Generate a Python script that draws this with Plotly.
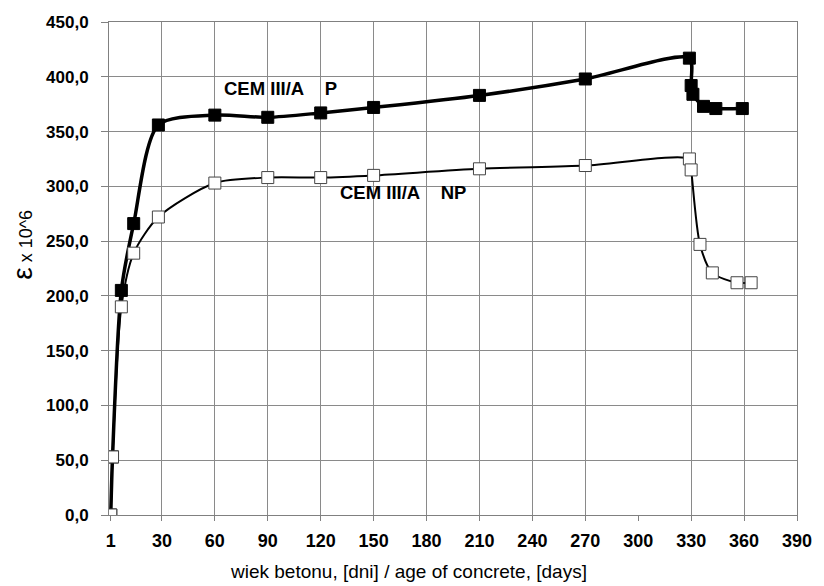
import plotly.graph_objects as go

# ---- data ----
days_p = [1, 2, 7, 14, 28, 60, 90, 120, 150, 210, 270, 329, 330, 331, 337, 344, 359]
eps_p = [0, 53, 205, 266, 356, 365, 363, 367, 372, 383, 398, 417, 392, 384, 373, 371, 371]

days_np = [1, 2, 7, 14, 28, 60, 90, 120, 150, 210, 270, 329, 330, 335, 342, 356, 364]
eps_np = [0, 53, 190, 239, 272, 303, 308, 308, 310, 316, 319, 325, 315, 247, 221, 212, 212]

x_tickvals = [1, 30, 60, 90, 120, 150, 180, 210, 240, 270, 300, 330, 360, 390]
x_ticktext = ["1", "30", "60", "90", "120", "150", "180", "210", "240", "270",
              "300", "330", "360", "390"]
x_gridvals = [30, 60, 90, 120, 150, 180, 210, 240, 270, 330, 360, 390]

label_p = "CEM III/A\u00a0\u00a0\u00a0\u00a0P"
label_np = "CEM III/A\u00a0\u00a0\u00a0\u00a0NP"
x_title = "wiek betonu, [dni] / age of concrete, [days]"
y_title = "<span style=\"font-size:28px\">ε</span> x 10^6"

FONT = "Liberation Sans, Arial, sans-serif"
GRID = "#8a8a8a"
LINE = "#808080"

fig = go.Figure()

# grid-only overlay axis (the 300-day grid line is absent in the reference)
fig.add_trace(go.Scatter(x=[None], y=[None], xaxis="x2", showlegend=False,
                         hoverinfo="skip", mode="markers"))

fig.add_trace(go.Scatter(
    x=days_p, y=eps_p, mode="lines+markers", name="CEM III/A P",
    line=dict(color="black", width=3.5, shape="spline", smoothing=0.75),
    marker=dict(symbol="square", size=12, color="black",
                line=dict(color="black", width=1)),
    showlegend=False))

fig.add_trace(go.Scatter(
    x=days_np, y=eps_np, mode="lines+markers", name="CEM III/A NP",
    line=dict(color="black", width=2, shape="spline", smoothing=0.75),
    marker=dict(symbol="square", size=12, color="white",
                line=dict(color="#444444", width=1)),
    showlegend=False))

fig.update_layout(
    width=824, height=586,
    margin=dict(l=109, r=16, t=22, b=71),
    paper_bgcolor="white", plot_bgcolor="white",
    separators=", ",
    font=dict(family=FONT, color="black"),
    xaxis=dict(range=[0, 390], tickvals=x_tickvals, ticktext=x_ticktext,
               showgrid=False, zeroline=False,
               showline=True, linecolor=LINE, linewidth=1, mirror=True,
               ticks="outside", ticklen=5, tickcolor=LINE, tickwidth=1,
               ticklabelstandoff=4,
               tickfont=dict(family=FONT, size=18, color="black", weight="bold")),
    xaxis2=dict(range=[0, 390], overlaying="x", tickvals=x_gridvals,
                showgrid=True, gridcolor=GRID, gridwidth=1,
                showticklabels=False, ticks="", zeroline=False, showline=False),
    yaxis=dict(range=[0, 450], dtick=50, tick0=0, tickformat=".1f",
               showgrid=True, gridcolor=GRID, gridwidth=1, zeroline=False,
               showline=True, linecolor=LINE, linewidth=1, mirror=True,
               ticks="outside", ticklen=7, tickcolor=LINE, tickwidth=1,
               ticklabelstandoff=9,
               tickfont=dict(family=FONT, size=17, color="black", weight="bold")),
    annotations=[
        dict(x=64, y=389, xref="x", yref="y", text=label_p, showarrow=False,
             xanchor="left", yanchor="middle",
             font=dict(family=FONT, size=18.5, color="black", weight="bold")),
        dict(x=130, y=294, xref="x", yref="y", text=label_np, showarrow=False,
             xanchor="left", yanchor="middle",
             font=dict(family=FONT, size=18.5, color="black", weight="bold")),
        dict(x=0.436, y=-0.115, xref="paper", yref="paper", text=x_title,
             showarrow=False, xanchor="center", yanchor="middle",
             font=dict(family=FONT, size=19, color="black")),
        dict(x=-0.125, y=0.548, xref="paper", yref="paper", text=y_title,
             showarrow=False, xanchor="center", yanchor="middle", textangle=-90,
             font=dict(family=FONT, size=18, color="black")),
    ],
)

fig.write_html("out.html")
